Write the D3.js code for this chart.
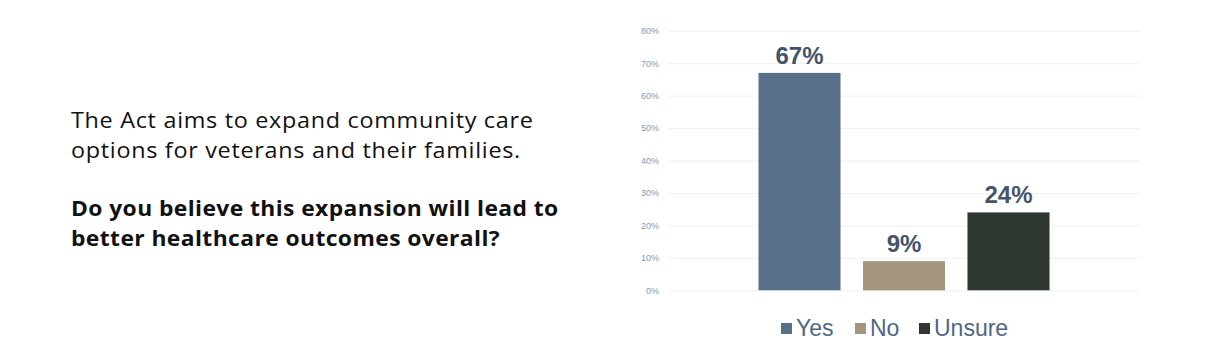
<!DOCTYPE html>
<html>
<head>
<meta charset="utf-8">
<script src="https://cdn.jsdelivr.net/npm/d3@7"></script>
<style>
  html, body { margin: 0; padding: 0; background: #fff; }
  svg { display: block; }
</style>
</head>
<body>
<svg id="chart" width="1220" height="360"></svg>
<script>
const categories = ["Yes", "No", "Unsure"];
const values = [67, 9, 24];
const colors = ["#587089", "#a4967e", "#2e3830"];
const yTicks = [0, 10, 20, 30, 40, 50, 60, 70, 80];
const introLines = ["The Act aims to expand community care", "options for veterans and their families."];
const questionLines = ["Do you believe this expansion will lead to", "better healthcare outcomes overall?"];

const svg = d3.select("#chart");

// Left text
const tf = "'Open Sans', 'Noto Sans', sans-serif";
function textBlock(lines, cls, y0, weight, targetWidth) {
  const g = svg.append("g");
  const sel = g.selectAll("text." + cls).data(lines).join("text")
    .attr("class", cls)
    .attr("x", 0).attr("y", (d, i) => y0 + i * 30)
    .attr("font-family", tf).attr("font-size", 22).attr("font-weight", weight).attr("fill", "#111")
    .text(d => d);
  const natural = sel.node().getComputedTextLength();
  const n = lines[0].length;
  const mid = natural + (targetWidth - natural) * 0.5;
  const ls = (targetWidth - mid) / n;
  sel.attr("letter-spacing", ls);
  const sx = mid / natural;
  g.attr("transform", `translate(71,0) scale(${sx},1)`);
  sel.attr("letter-spacing", ls / sx);
}
textBlock(introLines, "intro", 128, 400, 463);
textBlock(questionLines, "q", 216, 700, 488);

// Chart
const x0 = 668, x1 = 1140, yTop = 30.7, yBot = 290.3;
const y = d3.scaleLinear().domain([0, 80]).range([yBot, yTop]);
const x = d3.scaleBand().domain(categories).range([x0, x1]).paddingInner(0.215).paddingOuter(0.866);

const yAxis = d3.axisLeft(y).tickValues(yTicks).tickSize(-(x1 - x0)).tickFormat(d => d + "%");
const gy = svg.append("g").attr("transform", `translate(${x0},0)`).call(yAxis);
gy.select(".domain").remove();
gy.selectAll(".tick line").attr("stroke", "#eef0f3").attr("stroke-width", 1);
gy.selectAll(".tick text").attr("x", -9).attr("fill", "#8a97ab")
  .attr("font-family", "Arial, 'Liberation Sans', sans-serif").attr("font-size", 9);

svg.selectAll("rect.bar").data(values).join("rect")
  .attr("class", "bar")
  .attr("x", (d, i) => x(categories[i]))
  .attr("y", d => y(d))
  .attr("width", x.bandwidth())
  .attr("height", d => yBot - y(d))
  .attr("fill", (d, i) => colors[i]);

svg.selectAll("text.lbl").data(values).join("text")
  .attr("class", "lbl")
  .attr("x", (d, i) => x(categories[i]) + x.bandwidth() / 2)
  .attr("y", d => y(d) - 9)
  .attr("text-anchor", "middle")
  .attr("font-family", "Arial, 'Liberation Sans', sans-serif").attr("font-size", 24).attr("font-weight", 700)
  .attr("fill", "#44546a")
  .text(d => d + "%");

// Legend
const legendX = [781, 855, 919];
const lg = svg.selectAll("g.leg").data(categories).join("g")
  .attr("class", "leg")
  .attr("transform", (d, i) => `translate(${legendX[i]},0)`);
lg.append("rect").attr("x", 0).attr("y", 323).attr("width", 11).attr("height", 11)
  .attr("fill", (d, i) => colors[i]);
lg.append("text").attr("x", 15).attr("y", 336)
  .attr("font-family", "Arial, 'Liberation Sans', sans-serif").attr("font-size", 23)
  .attr("fill", "#4f6787").text(d => d);
</script>
</body>
</html>
